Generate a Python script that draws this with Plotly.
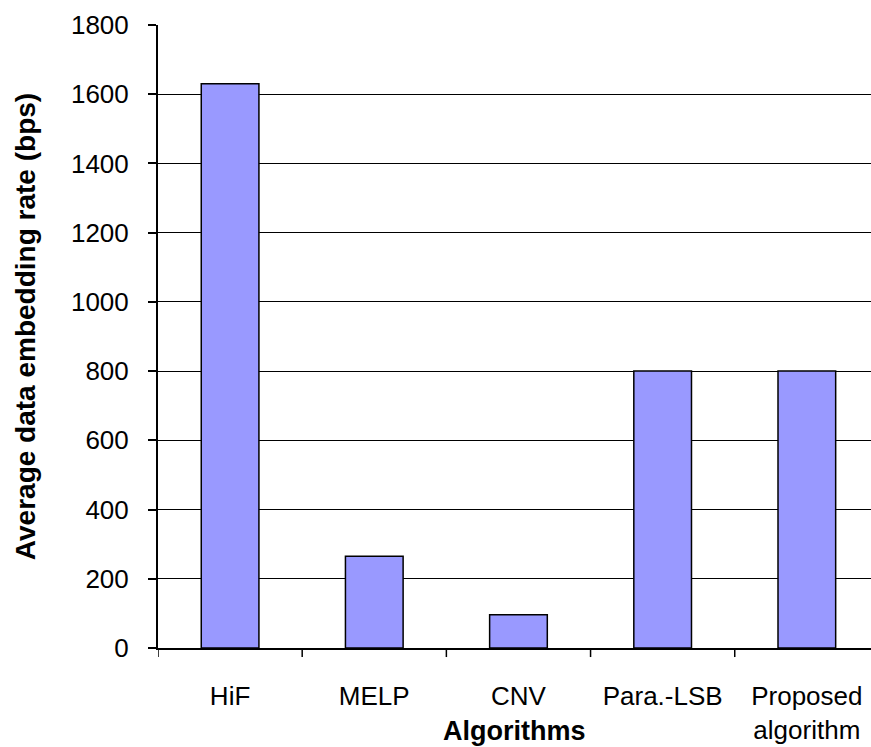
import plotly.graph_objects as go

categories = ["HiF", "MELP", "CNV", "Para.-LSB", "Proposed<br>algorithm"]
values = [1630, 265, 96, 800, 800]
y_ticks = [0, 200, 400, 600, 800, 1000, 1200, 1400, 1600, 1800]

FONT = "Liberation Sans, Arial, sans-serif"

fig = go.Figure()
fig.add_trace(go.Bar(
    x=list(range(len(categories))),
    y=values,
    marker=dict(color="#9999FF", line=dict(color="black", width=1.5)),
    width=0.4,
))

fig.update_layout(
    width=871, height=747,
    margin=dict(l=158, r=0, t=25, b=99),
    plot_bgcolor="white", paper_bgcolor="white",
    showlegend=False,
    font=dict(family=FONT, size=26, color="black"),
    xaxis=dict(
        range=[-0.5, 4.445],
        tickmode="array",
        tickvals=list(range(len(categories))),
        ticktext=categories,
        showgrid=False,
        showline=True, linecolor="black", linewidth=1.5,
        ticks="",
        ticklabelstandoff=24,
        tickfont=dict(size=26),
        zeroline=False,
    ),
    yaxis=dict(
        range=[0, 1800],
        tickmode="array",
        tickvals=y_ticks,
        showgrid=True, gridcolor="black", gridwidth=1,
        showline=True, linecolor="black", linewidth=2,
        ticks="outside", ticklen=8, tickcolor="black", tickwidth=1.5,
        ticklabelstandoff=14,
        tickfont=dict(size=26),
        zeroline=False,
    ),
    annotations=[
        dict(text="<b>Algorithms</b>", xref="paper", yref="paper",
             x=0.5, y=0, yshift=-83, xanchor="center", yanchor="middle",
             showarrow=False, font=dict(size=27, family=FONT)),
        dict(text="<b>Average data embedding rate (bps)</b>", xref="paper", yref="paper",
             x=0, xshift=-133, y=0.515, xanchor="center", yanchor="middle", textangle=-90,
             showarrow=False, font=dict(size=28, family=FONT)),
    ],
)

# category-boundary ticks on x axis
boundary = [i - 0.5 for i in range(len(categories) + 1)]
for b in boundary:
    fig.add_shape(type="line", xref="x", yref="paper", x0=b, x1=b, y0=0, y1=-0.0145,
                  line=dict(color="black", width=1.5))

fig.write_html("out.html", config={"displayModeBar": False},
               post_script="document.body.style.margin='0';")
